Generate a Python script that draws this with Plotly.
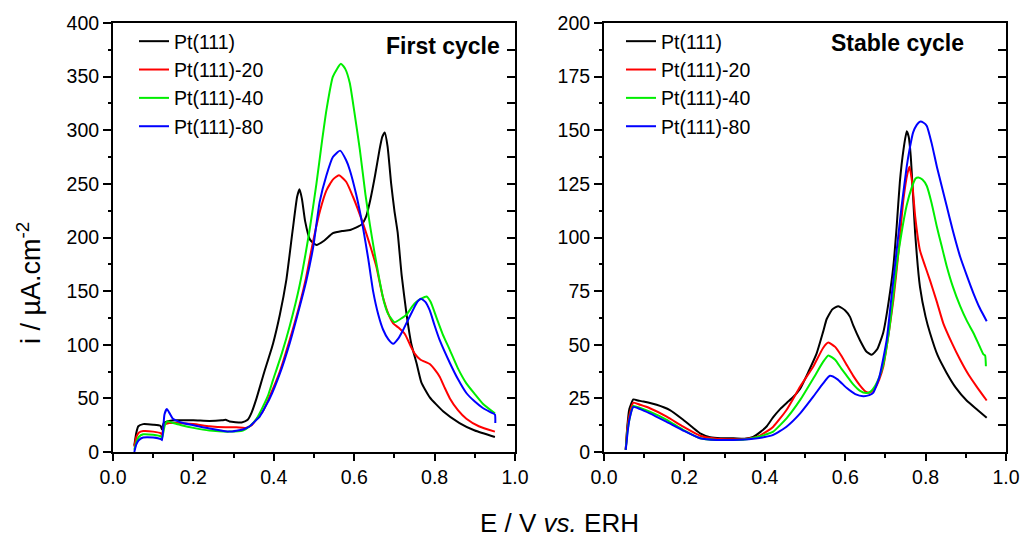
import plotly.graph_objects as go

# ---------------- data: First cycle ----------------
series_names = ["Pt(111)", "Pt(111)-20", "Pt(111)-40", "Pt(111)-80"]
series_colors = ["#000000", "#ff0000", "#00ee00", "#0000ff"]

first_pt_x = [0.053, 0.058, 0.063, 0.075, 0.10, 0.118, 0.122, 0.126, 0.14, 0.16, 0.20, 0.24, 0.27, 0.28, 0.29, 0.32, 0.335, 0.345, 0.357, 0.375, 0.398, 0.415, 0.431, 0.447, 0.458, 0.464, 0.470, 0.478, 0.490, 0.506, 0.525, 0.547, 0.570, 0.590, 0.618, 0.630, 0.640, 0.652, 0.663, 0.670, 0.676, 0.683, 0.692, 0.700, 0.708, 0.718, 0.730, 0.742, 0.755, 0.767, 0.788, 0.821, 0.862, 0.90, 0.95]
first_pt_y = [6, 18, 24, 26, 25.5, 24.5, 21, 27, 29, 29.5, 29.5, 29, 29.5, 30, 28.5, 27.5, 30, 37, 50, 73, 101, 128, 160, 207, 238, 245, 236, 215, 198, 193, 197, 204, 206, 207, 212, 220, 235, 258, 282, 294, 298, 285, 250, 225, 205, 165, 129, 101, 83, 65, 51, 38, 27, 20, 14]

first_20_x = [0.053, 0.058, 0.064, 0.075, 0.10, 0.119, 0.122, 0.127, 0.14, 0.158, 0.20, 0.24, 0.28, 0.307, 0.33, 0.345, 0.36, 0.373, 0.39, 0.415, 0.44, 0.464, 0.48, 0.497, 0.515, 0.531, 0.547, 0.562, 0.58, 0.597, 0.622, 0.64, 0.655, 0.671, 0.688, 0.697, 0.71, 0.726, 0.74, 0.75, 0.765, 0.788, 0.80, 0.813, 0.825, 0.838, 0.858, 0.879, 0.91, 0.95]
first_20_y = [5, 14, 18, 19.5, 19, 17.5, 16, 25, 27, 27, 26, 24, 23, 23, 22.5, 25, 32, 38, 52, 75, 105, 137, 162, 195, 225, 244, 254, 258, 252, 238, 213, 192, 173, 145, 126, 120, 116, 110, 99, 92, 86, 82, 77, 70, 60, 50, 39, 31, 24, 19]

first_40_x = [0.053, 0.058, 0.064, 0.075, 0.10, 0.119, 0.122, 0.129, 0.135, 0.15, 0.17, 0.20, 0.24, 0.29, 0.323, 0.34, 0.357, 0.37, 0.385, 0.398, 0.42, 0.44, 0.464, 0.489, 0.506, 0.52, 0.531, 0.547, 0.567, 0.578, 0.589, 0.60, 0.614, 0.628, 0.639, 0.651, 0.663, 0.674, 0.684, 0.70, 0.715, 0.73, 0.745, 0.755, 0.767, 0.78, 0.79, 0.804, 0.82, 0.838, 0.858, 0.879, 0.90, 0.92, 0.95]
first_40_y = [2, 9, 14, 16.5, 16, 14.5, 13, 25, 28.5, 27, 25, 22.5, 20, 19, 20, 24, 31, 40, 52, 67, 92, 118, 155, 207, 250, 290, 319, 350, 362, 357, 344, 318, 282, 240, 212, 185, 160, 140, 129, 121, 124, 128, 136, 140, 143, 145, 140, 126, 110, 95, 78, 64, 54, 45, 36]

first_80_x = [0.053, 0.058, 0.064, 0.075, 0.10, 0.119, 0.122, 0.128, 0.134, 0.141, 0.149, 0.174, 0.20, 0.24, 0.29, 0.323, 0.34, 0.357, 0.365, 0.39, 0.415, 0.44, 0.464, 0.481, 0.498, 0.514, 0.531, 0.547, 0.565, 0.58, 0.589, 0.605, 0.622, 0.635, 0.647, 0.66, 0.672, 0.685, 0.697, 0.71, 0.722, 0.735, 0.747, 0.757, 0.766, 0.777, 0.788, 0.80, 0.813, 0.838, 0.858, 0.879, 0.90, 0.92, 0.94, 0.95, 0.951]
first_80_y = [0, 7, 11, 13.5, 13.5, 12, 11, 35, 40, 36, 31, 27, 25, 22, 19, 21, 24, 30, 33, 50, 73, 102, 135, 160, 191, 233, 258, 275, 281, 272, 263, 240, 209, 180, 150, 128, 114, 105, 101, 106, 114, 124, 133, 140, 143, 140, 132, 118, 104, 83, 68, 55, 47, 41, 37, 35, 27]

# ---------------- data: Stable cycle ----------------
stable_pt_x = [0.054, 0.058, 0.063, 0.073, 0.085, 0.098, 0.131, 0.164, 0.197, 0.22, 0.239, 0.264, 0.29, 0.322, 0.35, 0.371, 0.39, 0.405, 0.42, 0.438, 0.455, 0.47, 0.488, 0.51, 0.529, 0.545, 0.554, 0.568, 0.583, 0.60, 0.612, 0.62, 0.637, 0.652, 0.666, 0.68, 0.695, 0.708, 0.72, 0.728, 0.736, 0.745, 0.753, 0.758, 0.763, 0.768, 0.774, 0.786, 0.80, 0.811, 0.83, 0.852, 0.875, 0.902, 0.93, 0.952]
stable_pt_y = [1, 12, 20, 24.5, 24, 23.5, 22, 19.5, 15, 11.5, 8.7, 6.9, 6.4, 6.4, 6.2, 7, 9.5, 12, 16, 20, 23, 25.5, 29.5, 38, 46, 56, 62, 66.5, 68, 66, 63, 59, 52, 47, 45.3, 48, 56, 70, 87, 105, 126, 141, 149.5, 147, 138, 122, 102, 77, 63, 55.5, 45, 37, 30, 24, 19.5, 16]

stable_20_x = [0.054, 0.058, 0.063, 0.073, 0.09, 0.114, 0.156, 0.197, 0.239, 0.28, 0.322, 0.35, 0.38, 0.40, 0.421, 0.454, 0.488, 0.521, 0.545, 0.558, 0.575, 0.59, 0.604, 0.62, 0.637, 0.652, 0.662, 0.675, 0.685, 0.695, 0.708, 0.72, 0.733, 0.745, 0.755, 0.76, 0.767, 0.774, 0.786, 0.80, 0.811, 0.828, 0.844, 0.865, 0.886, 0.907, 0.927, 0.952]
stable_20_y = [1, 11, 17, 23, 22, 20.4, 16.5, 11.8, 7.6, 6.2, 6, 6.1, 7, 9, 11.8, 19.6, 30.5, 40, 48.5, 51, 49, 45, 40.5, 35.5, 31, 28, 27.7, 30, 34, 40, 55, 71, 94, 118, 130, 133, 125, 110, 94, 86, 80, 70, 60, 51, 43, 36, 30.5, 24]

stable_40_x = [0.054, 0.058, 0.063, 0.073, 0.09, 0.114, 0.156, 0.197, 0.239, 0.28, 0.322, 0.35, 0.371, 0.40, 0.421, 0.454, 0.488, 0.521, 0.545, 0.558, 0.575, 0.59, 0.604, 0.62, 0.637, 0.652, 0.662, 0.675, 0.685, 0.695, 0.708, 0.718, 0.728, 0.74, 0.753, 0.765, 0.775, 0.782, 0.792, 0.803, 0.815, 0.828, 0.84, 0.852, 0.868, 0.886, 0.903, 0.919, 0.935, 0.944, 0.948, 0.95]
stable_40_y = [1, 9, 15, 21.5, 20.5, 18.8, 15, 10.3, 6.4, 5.6, 5.6, 5.8, 6.5, 8, 9.5, 15.7, 24.3, 34.4, 42, 45, 43, 39, 35.5, 31.5, 28.5, 27.5, 28, 31, 35, 41, 55, 70, 87, 102, 115, 123, 127.5, 128, 127, 124, 116, 105, 96, 87, 77, 68, 61, 55.5, 49, 45.5, 45, 40]

stable_80_x = [0.054, 0.058, 0.063, 0.073, 0.09, 0.114, 0.156, 0.197, 0.239, 0.28, 0.322, 0.35, 0.371, 0.40, 0.421, 0.454, 0.488, 0.521, 0.545, 0.562, 0.58, 0.604, 0.625, 0.645, 0.66, 0.67, 0.685, 0.703, 0.715, 0.728, 0.74, 0.753, 0.761, 0.769, 0.778, 0.786, 0.795, 0.803, 0.815, 0.828, 0.84, 0.852, 0.868, 0.886, 0.903, 0.919, 0.935, 0.952]
stable_80_y = [1, 8, 15, 21, 20, 18, 14, 10, 6.4, 5.6, 5.6, 5.8, 6.2, 7, 8, 11.8, 18, 25.9, 32, 35.5, 34, 29.8, 27, 26, 26.5, 27.7, 35, 52, 72, 94, 114, 133, 142, 149, 152.5, 154, 153.5, 152, 144, 133, 124, 115, 103, 91, 82, 74, 67, 61]

x_tick_vals = [0.0, 0.2, 0.4, 0.6, 0.8, 1.0]
left_y_ticks = [0, 50, 100, 150, 200, 250, 300, 350, 400]
right_y_ticks = [0, 25, 50, 75, 100, 125, 150, 175, 200]

first_x = [first_pt_x, first_20_x, first_40_x, first_80_x]
first_y = [first_pt_y, first_20_y, first_40_y, first_80_y]
stable_x = [stable_pt_x, stable_20_x, stable_40_x, stable_80_x]
stable_y = [stable_pt_y, stable_20_y, stable_40_y, stable_80_y]

FONT = "Liberation Sans, Arial, sans-serif"
W, H = 1026, 540

def px_x(p):
    return p / W

def px_y(p):
    return 1 - p / H

fig = go.Figure()
for i in range(4):
    fig.add_trace(go.Scatter(x=first_x[i], y=first_y[i], mode="lines", name=series_names[i],
                             line=dict(color=series_colors[i], width=2, shape="spline", smoothing=0.5),
                             xaxis="x", yaxis="y", legend="legend"))
for i in range(4):
    fig.add_trace(go.Scatter(x=stable_x[i], y=stable_y[i], mode="lines", name=series_names[i],
                             line=dict(color=series_colors[i], width=2, shape="spline", smoothing=0.5),
                             xaxis="x2", yaxis="y2", legend="legend2"))
# invisible traces so the right-side tick axes exist
fig.add_trace(go.Scatter(x=[None], y=[None], xaxis="x", yaxis="y3", showlegend=False, hoverinfo="skip"))
fig.add_trace(go.Scatter(x=[None], y=[None], xaxis="x2", yaxis="y4", showlegend=False, hoverinfo="skip"))

ydom = [px_y(452), px_y(23)]
common_x = dict(range=[0, 1], tickvals=x_tick_vals, tickformat=".1f", ticks="outside", ticklen=7,
                tickwidth=1.5, tickcolor="black", showline=True, linewidth=2, linecolor="black",
                mirror=True, showgrid=False, zeroline=False, automargin=False,
                tickfont=dict(family=FONT, size=19.5, color="black"),
                minor=dict(ticks="outside", dtick=0.1, ticklen=4, tickwidth=1.5, tickcolor="black", showgrid=False))
common_y = dict(ticks="outside", ticklen=8, tickwidth=1.5, tickcolor="black", showline=True,
                linewidth=2, linecolor="black", mirror=True, showgrid=False, zeroline=False,
                automargin=False, tickfont=dict(family=FONT, size=19.5, color="black"))
right_ticks = dict(side="right", ticks="inside", ticklen=8, tickwidth=1.5, tickcolor="black",
                   showticklabels=False, showline=False, showgrid=False, zeroline=False, automargin=False)

fig.update_layout(
    width=W, height=H,
    margin=dict(l=0, r=0, t=0, b=0, pad=0, autoexpand=False),
    paper_bgcolor="white", plot_bgcolor="white",
    font=dict(family=FONT, color="black"),
    xaxis=dict(domain=[px_x(113), px_x(515)], anchor="y", **common_x),
    xaxis2=dict(domain=[px_x(604), px_x(1006)], anchor="y2", **common_x),
    yaxis=dict(domain=ydom, anchor="x", range=[0, 400], tickvals=left_y_ticks,
               minor=dict(ticks="outside", dtick=25, ticklen=3, tickwidth=1.5, tickcolor="black", showgrid=False),
               **common_y),
    yaxis2=dict(domain=ydom, anchor="x2", range=[0, 200], tickvals=right_y_ticks,
                minor=dict(ticks="outside", dtick=12.5, ticklen=3, tickwidth=1.5, tickcolor="black", showgrid=False),
                **common_y),
    yaxis3=dict(overlaying="y", anchor="x", range=[0, 400], dtick=25, tick0=0, **right_ticks),
    yaxis4=dict(overlaying="y2", anchor="x2", range=[0, 200], dtick=12.5, tick0=0, **right_ticks),
    legend=dict(x=px_x(134), y=px_y(22), xanchor="left", yanchor="top", bgcolor="rgba(0,0,0,0)",
                font=dict(family=FONT, size=19.5, color="black"), borderwidth=0),
    legend2=dict(x=px_x(621), y=px_y(22), xanchor="left", yanchor="top", bgcolor="rgba(0,0,0,0)",
                 font=dict(family=FONT, size=19.5, color="black"), borderwidth=0),
    showlegend=True,
    annotations=[
        dict(text="<b>First cycle</b>", x=px_x(502), y=px_y(46), xref="paper", yref="paper",
             xanchor="right", yanchor="middle", showarrow=False, font=dict(family=FONT, size=23, color="black")),
        dict(text="<b>Stable cycle</b>", x=px_x(897), y=px_y(43), xref="paper", yref="paper",
             xanchor="center", yanchor="middle", showarrow=False, font=dict(family=FONT, size=23, color="black")),
        dict(text="E / V <i>vs.</i> ERH", x=px_x(559), y=px_y(523), xref="paper", yref="paper",
             xanchor="center", yanchor="middle", showarrow=False, font=dict(family=FONT, size=26, color="black")),
        dict(text="i / µA.cm<sup>-2</sup>", x=px_x(29), y=px_y(283), xref="paper", yref="paper",
             xanchor="center", yanchor="middle", textangle=-90, showarrow=False,
             font=dict(family=FONT, size=27, color="black")),
    ],
)

# remove the default 8px page margin so the figure fills the 1026x540 window exactly
fig.write_html("out.html", config={"displayModeBar": False},
               post_script="document.body.style.margin='0';document.body.style.overflow='hidden';")
